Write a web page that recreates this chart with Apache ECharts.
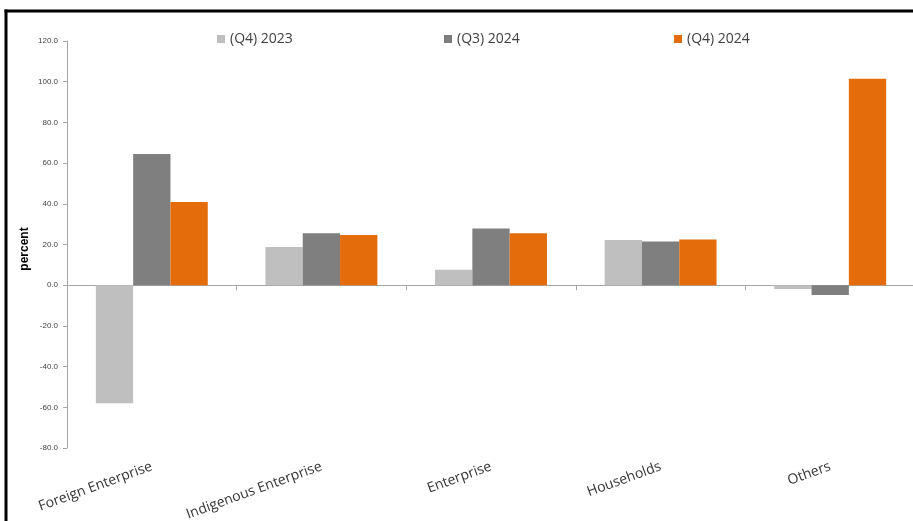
<!DOCTYPE html>
<html>
<head>
<meta charset="utf-8">
<style>
  html, body { margin: 0; padding: 0; background: #ffffff; }
  #chart { width: 913px; height: 521px; }
</style>
<script src="https://cdn.jsdelivr.net/npm/echarts@6/dist/echarts.min.js"></script>
</head>
<body>
<div id="chart"></div>
<script>
// Sectors shown along the category axis
const categories = ['Foreign Enterprise', 'Indigenous Enterprise', 'Enterprise', 'Households', 'Others'];

// Percent values per period
const q4_2023 = [-58.0, 18.8, 7.6, 22.2, -1.9];
const q3_2024 = [64.5, 25.5, 27.9, 21.5, -4.8];
const q4_2024 = [40.9, 24.7, 25.5, 22.5, 101.5];

const seriesNames = ['(Q4) 2023', '(Q3) 2024', '(Q4) 2024'];
const seriesColors = ['#bfbfbf', '#7f7f7f', '#e46c0a'];

// Value axis range
const yMin = -80, yMax = 120, yStep = 20;

const chart = echarts.init(document.getElementById('chart'), null, { renderer: 'canvas' });

const legendStyle = (name, left) => ({
  data: [name],
  left: left,
  top: 32,
  padding: 0,
  icon: 'rect',
  itemWidth: 8,
  itemHeight: 8,
  itemGap: 0,
  textStyle: { fontFamily: 'Open Sans', fontSize: 14, color: '#404040' }
});

chart.setOption({
  animation: false,
  backgroundColor: '#ffffff',
  legend: [
    legendStyle(seriesNames[0], 217),
    legendStyle(seriesNames[1], 444),
    legendStyle(seriesNames[2], 674)
  ],
  grid: { left: 67, top: 41, width: 848, height: 407, containLabel: false, outerBoundsMode: 'none' },
  xAxis: [
    {
      type: 'category',
      data: categories,
      axisLine: { onZero: true, lineStyle: { color: '#a6a6a6', width: 1 } },
      axisTick: { show: true, length: 5, lineStyle: { color: '#a6a6a6' } },
      axisLabel: { show: false },
      splitLine: { show: false }
    },
    {
      type: 'category',
      data: categories,
      position: 'bottom',
      axisLine: { show: false, onZero: false },
      axisTick: { show: false },
      axisLabel: {
        show: true,
        rotate: 20,
        margin: 18,
        fontFamily: 'Open Sans',
        fontSize: 14,
        color: '#333333'
      },
      splitLine: { show: false }
    }
  ],
  yAxis: {
    type: 'value',
    min: yMin,
    max: yMax,
    interval: yStep,
    axisLine: { show: true, lineStyle: { color: '#a6a6a6', width: 1 } },
    axisTick: { show: true, length: 4, lineStyle: { color: '#a6a6a6' } },
    axisLabel: {
      formatter: v => v.toFixed(1),
      fontFamily: 'Liberation Sans',
      fontSize: 8,
      color: '#404040',
      margin: 9
    },
    splitLine: { show: false }
  },
  series: [q4_2023, q3_2024, q4_2024].map((vals, i) => ({
    name: seriesNames[i],
    type: 'bar',
    xAxisIndex: 0,
    data: vals,
    barGap: '0%',
    barCategoryGap: '34%',
    itemStyle: { color: seriesColors[i] }
  })),
  graphic: [
    // Frame edges (left and top)
    {
      type: 'line',
      shape: { x1: 6, y1: 9.5, x2: 6, y2: 521 },
      style: { stroke: '#000000', lineWidth: 3 }
    },
    {
      type: 'line',
      shape: { x1: 4.5, y1: 11, x2: 913, y2: 11 },
      style: { stroke: '#000000', lineWidth: 3 }
    },
    // Value axis title
    {
      type: 'text',
      x: 25,
      y: 249,
      rotation: Math.PI / 2,
      style: {
        text: 'percent',
        fontFamily: 'Liberation Sans',
        fontSize: 12,
        fontWeight: 'bold',
        fill: '#000000',
        align: 'center',
        verticalAlign: 'middle'
      }
    }
  ]
});
</script>
</body>
</html>
